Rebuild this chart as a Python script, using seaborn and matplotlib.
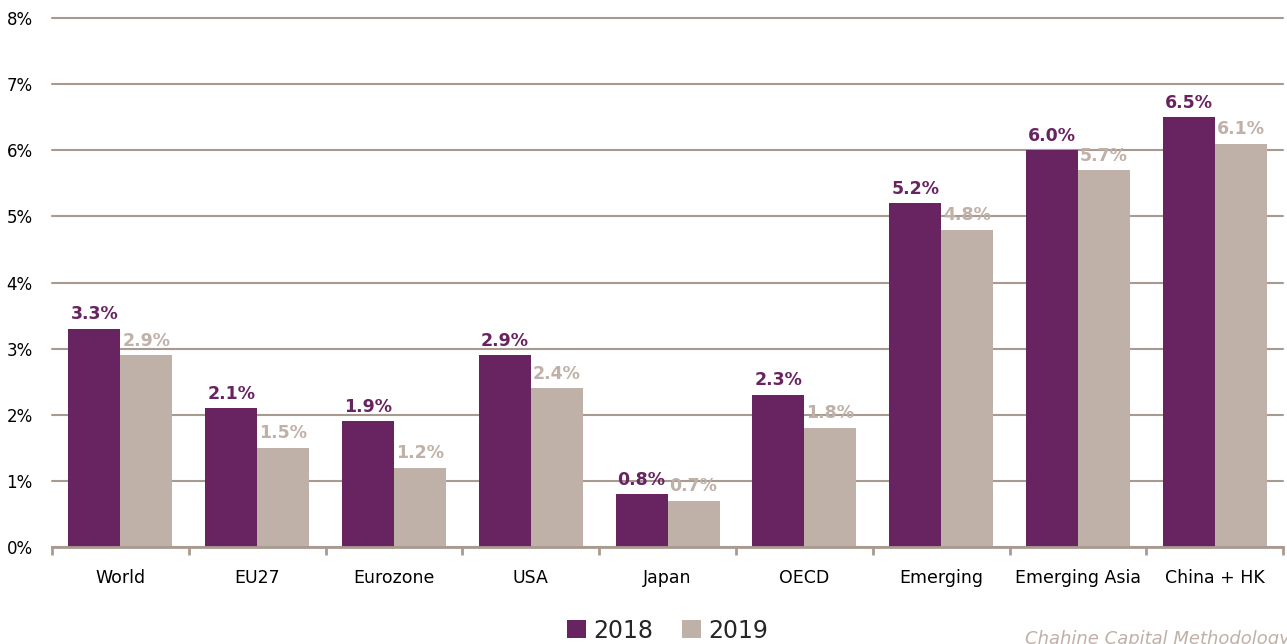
import pandas as pd
import seaborn as sns
import matplotlib.pyplot as plt
from matplotlib.ticker import FixedLocator, FuncFormatter

regions = ['World', 'EU27', 'Eurozone', 'USA', 'Japan', 'OECD', 'Emerging', 'Emerging Asia', 'China + HK']
growth_2018 = [3.3, 2.1, 1.9, 2.9, 0.8, 2.3, 5.2, 6.0, 6.5]
growth_2019 = [2.9, 1.5, 1.2, 2.4, 0.7, 1.8, 4.8, 5.7, 6.1]
years = ['2018', '2019']

purple = '#682461'
taupe = '#bfb0a8'
line_col = '#a89a90'

df = pd.DataFrame({
    'Region': regions * 2,
    'Year': ['2018'] * len(regions) + ['2019'] * len(regions),
    'Growth': growth_2018 + growth_2019,
})

sns.set_style('white')
plt.rcParams['font.family'] = ['DejaVu Sans']

fig = plt.figure(figsize=(12.87, 6.44), dpi=100)
ax = fig.add_axes([0.0404, 0.1506, 0.9566, 0.8214])

sns.barplot(data=df, x='Region', y='Growth', hue='Year', hue_order=years,
            palette=[purple, taupe], width=0.76, gap=0, saturation=1,
            edgecolor='none', ax=ax, legend=True)

ax.set_ylim(0, 8)
ax.set_xlim(-0.5, len(regions) - 0.5)
ax.set_yticks(range(0, 9))
ax.yaxis.set_major_formatter(FuncFormatter(lambda v, p: f'{v:.0f}%'))
ax.grid(axis='y', color=line_col, linewidth=1.5)
for gl in ax.get_ygridlines():
    gl.set_clip_on(False)
ax.set_axisbelow(True)
ax.set_xlabel('')
ax.set_ylabel('')

for s in ['top', 'right', 'left']:
    ax.spines[s].set_visible(False)
ax.spines['bottom'].set_color(line_col)
ax.spines['bottom'].set_linewidth(2)

ax.tick_params(axis='y', length=0, labelsize=12, pad=14, labelcolor='black')
ax.tick_params(axis='x', which='major', length=0, labelsize=12.5, pad=16, labelcolor='black')
ax.xaxis.set_minor_locator(FixedLocator([i - 0.5 for i in range(len(regions) + 1)]))
ax.tick_params(axis='x', which='minor', bottom=True, length=6, width=2,
               color=line_col, direction='out')

for container, col in zip(ax.containers, [purple, taupe]):
    ax.bar_label(container, labels=[f'{v:.1f}%' for v in container.datavalues],
                 color=col, fontweight='bold', fontsize=12.5, padding=4)

ax.legend(loc='upper center', bbox_to_anchor=(0.5, -0.095), ncol=2, frameon=False,
          fontsize=17, handlelength=0.8, handleheight=0.8, handletextpad=0.3,
          columnspacing=1.2)

fig.text(1025 / 1287, 1 - 630 / 644, 'Chahine Capital Methodology', style='italic',
         color=taupe, fontsize=13, ha='left', va='top')

fig.savefig('out.png', dpi=100)
